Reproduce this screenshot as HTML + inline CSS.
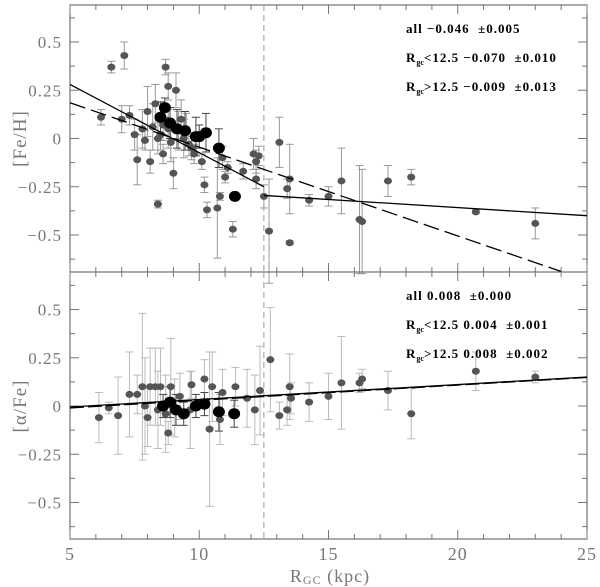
<!DOCTYPE html>
<html><head><meta charset="utf-8"><style>
body{margin:0;background:#fff}
svg{display:block;font-family:"Liberation Serif",serif}
.t{font-family:"Liberation Serif",serif;font-size:13px;font-weight:bold;fill:#000;letter-spacing:1px}
</style></head><body>
<svg id="c" width="600" height="587"></svg>
<script>
// [Fe/H] panel: R, value, error
const feR=[6.2,6.6,7.1,7.0,7.3,7.5,7.6,7.9,8.1,8.2,8.3,8.0,8.5,8.4,8.7,8.8,9.1,9.0,9.3,9.5,8.6,8.8,9.2,9.6,9.8,10.1,10.2,10.3,10.7,10.8,11.0,11.1,10.9,11.3,11.7,12.1,12.3,12.2,12.2,12.5,12.7,13.1,13.4,13.5,13.5,14.25,15.0,15.5,16.2,16.3,17.3,18.2,20.7,23.0,8.4,8.9,9.4,7.8,8.6,9.7];
const feV=[0.11,0.37,0.43,0.10,0.12,0.02,-0.11,-0.01,-0.12,0.06,0.18,0.14,0.02,-0.34,0.37,0.27,0.25,-0.18,0.10,0.05,-0.08,0.05,0.04,-0.03,-0.08,-0.12,-0.24,-0.37,-0.36,-0.30,-0.20,-0.15,-0.10,-0.47,-0.17,-0.08,-0.09,-0.12,-0.21,-0.30,-0.48,-0.02,-0.26,-0.21,-0.54,-0.32,-0.30,-0.22,-0.42,-0.43,-0.22,-0.20,-0.38,-0.44,0.0,-0.02,0.0,0.05,0.07,-0.05];
const feE=[0.04,0.03,0.07,0.07,0.05,0.08,0.13,0.05,0.06,0.12,0.1,0.13,0.08,0.02,0.04,0.07,0.09,0.08,0.1,0.08,0.05,0.1,0.1,0.06,0.05,0.04,0.04,0.04,0.26,0.02,0.03,0.03,0.06,0.04,0.04,0.08,0.05,0.06,0.05,0.06,0.27,0.13,0.05,0.18,0.01,0.03,0.05,0.17,0.28,0.27,0.08,0.04,0.01,0.08,0.08,0.1,0.1,0.1,0.08,0.06];
const feBR=[8.67,8.5,8.87,9.14,9.45,9.87,10.0,10.26,10.76,11.38];
const feBV=[0.16,0.11,0.08,0.05,0.04,0.01,0.01,0.03,-0.05,-0.30];
const feBE=[0.05,0.08,0.08,0.1,0.1,0.1,0.06,0.1,0.1,0.02];
// [alpha/Fe] panel
const alR=[6.12,6.5,6.86,7.3,7.6,7.8,8.1,8.3,8.5,8.0,8.8,8.9,9.7,10.2,10.4,10.5,10.9,10.8,11.4,11.85,12.15,12.35,12.75,13.1,13.5,13.4,13.55,9.05,9.25,9.65,8.4,8.7,7.9,14.25,15.0,15.5,16.2,16.3,17.3,18.2,20.7,23.0];
const alV=[-0.06,-0.01,-0.05,0.06,0.06,0.10,0.10,0.10,0.10,-0.06,-0.14,0.10,0.11,0.14,-0.12,0.10,0.07,-0.07,0.10,0.04,-0.02,0.08,0.24,-0.05,0.10,-0.02,0.04,-0.01,0.05,-0.02,-0.02,-0.04,0.0,0.02,0.05,0.12,0.12,0.14,0.08,-0.04,0.18,0.15];
const alE=[0.13,0.03,0.2,0.22,0.1,0.38,0.2,0.2,0.2,0.15,0.06,0.25,0.07,0.1,0.4,0.18,0.12,0.13,0.1,0.15,0.18,0.23,0.27,0.07,0.17,0.08,0.08,0.15,0.12,0.2,0.2,0.2,0.25,0.1,0.12,0.24,0.05,0.05,0.1,0.13,0.1,0.03];
const alBR=[8.6,8.87,9.1,9.4,9.87,10.2,10.76,11.35];
const alBV=[0.0,0.02,-0.02,-0.04,0.0,0.01,-0.03,-0.04];
const alBE=[0.06,0.08,0.08,0.06,0.06,0.06,0.1,0.07];
const xTicks=[5,10,15,20,25];
const yTicks=[0.5,0.25,0,-0.25,-0.5];
const yTickLabels=["0.5","0.25","0","\u22120.25","\u22120.5"];
// fits: [x0,y0,x1,y1]
const feFitAll=[5,0.185,24,-0.689];
const feFitIn=[5,0.28,12.5,-0.25];
const feFitOut=[12.5,-0.295,25,-0.40];
const alFitA=[5,-0.005,25,0.15];
const alFitB=[5,-0.01,25,0.148];

const svg=document.getElementById('c');
const NS='http://www.w3.org/2000/svg';
const L=70,R=587;
const X=v=>L+(v-5)*(R-L)/20;
const panels=[{top:5,bot:272,zero:138.5},{top:272,bot:539,zero:406}];
const S=193;
function mk(t,a,p){const e=document.createElementNS(NS,t);for(const k in a)e.setAttribute(k,a[k]);(p||svg).appendChild(e);return e;}
function line(x1,y1,x2,y2,st,w,da,p){return mk('line',{x1,y1,x2,y2,stroke:st,'stroke-width':w,'stroke-dasharray':da||'none'},p);}

panels.forEach((pn,pi)=>{
  const Y=v=>pn.zero-v*S;
  const g=mk('g',{});
  
  
  const fr=mk('rect',{x:L,y:pn.top,width:R-L,height:pn.bot-pn.top,fill:'none',stroke:'#555','stroke-width':1},g);
  
  
  for(let v=5;v<=25;v++){const big=v%5==0;const len=big?9:5;
    line(X(v),pn.bot,X(v),pn.bot-len,'#777',1,null,g);line(X(v),pn.top,X(v),pn.top+len,'#777',1,null,g);}
  for(let k=-5;k<=5;k++){const v=k*0.125;const big=k%2==0;const len=big?9:5;
    line(L,Y(v),L+len,Y(v),'#777',1,null,g);line(R,Y(v),R-len,Y(v),'#777',1,null,g);}
  yTicks.forEach((v,i)=>{const t=mk('text',{x:L-8,y:Y(v)+6,'text-anchor':'end','font-size':17,fill:'#777','letter-spacing':1},g);t.textContent=yTickLabels[i];
    
    });
  const vd=line(X(12.5),pn.top,X(12.5),pn.bot,'#999',1,'6,4',g);
  
  
  const [r,v,e,br,bv,be]=pi?[alR,alV,alE,alBR,alBV,alBE]:[feR,feV,feE,feBR,feBV,feBE];
  const ec=pi?'#bbb':'#999';
  r.forEach((x,i)=>{const cx=X(x),y1=Y(v[i]+e[i]),y2=Y(v[i]-e[i]);
    line(cx,y1,cx,y2,ec,1,null,g);line(cx-4,y1,cx+4,y1,ec,1,null,g);line(cx-4,y2,cx+4,y2,ec,1,null,g);});
  br.forEach((x,i)=>{const cx=X(x),y1=Y(bv[i]+be[i]),y2=Y(bv[i]-be[i]);
    line(cx,y1,cx,y2,'#444',1,null,g);line(cx-4,y1,cx+4,y1,'#444',1,null,g);line(cx-4,y2,cx+4,y2,'#444',1,null,g);});
  r.forEach((x,i)=>{const c=mk('ellipse',{cx:X(x),cy:Y(v[i]),rx:4,ry:3.5,fill:'#555'},g);
    
    });
  br.forEach((x,i)=>{const c=mk('ellipse',{cx:X(x),cy:Y(bv[i]),rx:6,ry:5.5,fill:'#000'},g);
    
    });
  const fits=pi?[[alFitA,null],[alFitB,'14,4']]:[[feFitIn,null],[feFitOut,null],[feFitAll,'16,6']];
  fits.forEach(([f,da])=>{const l=line(X(f[0]),Y(f[1]),X(f[2]),Y(f[3]),'#000',1.3,da,g);
    
    });
  const vals=pi?[['0.008','\u00b10.000'],['0.004','\u00b10.001'],['0.008','\u00b10.002']]:[['\u22120.046','\u00b10.005'],['\u22120.070','\u00b10.010'],['\u22120.009','\u00b10.013']];
  const cmp=['','<12.5 ','>12.5 '];
  vals.forEach((vv,i)=>{const t=mk('text',{x:406,y:pn.top+28+i*29,class:'t'},g);
    
    
    if(i==0){t.textContent='all '+vv[0]+'  '+vv[1];}
    else{const a=mk('tspan',{},t);a.textContent='R';const b=mk('tspan',{'font-size':8,dy:3,'letter-spacing':0},t);b.textContent='gc';
      const c=mk('tspan',{dy:-3},t);c.textContent=cmp[i]+vv[0]+'  '+vv[1];}
    t.style.whiteSpace='pre';});
  const yl=mk('text',{transform:`translate(26,${pn.zero}) rotate(-90)`,'text-anchor':'middle','font-size':19,fill:'#777','letter-spacing':1},g);
  yl.textContent=pi?'[\u03b1/Fe]':'[Fe/H]';
  
  
});
xTicks.forEach(v=>{const t=mk('text',{x:X(v),y:560,'text-anchor':'middle','font-size':18,fill:'#777','letter-spacing':1});t.textContent=v;
  
  });
const xt=mk('text',{x:330,y:582,'text-anchor':'middle','font-size':18,fill:'#777','letter-spacing':1});


const a1=mk('tspan',{},xt);a1.textContent='R';const a2=mk('tspan',{'font-size':12,dy:2},xt);a2.textContent='GC';const a3=mk('tspan',{dy:-2},xt);a3.textContent=' (kpc)';
</script>
</body></html>
